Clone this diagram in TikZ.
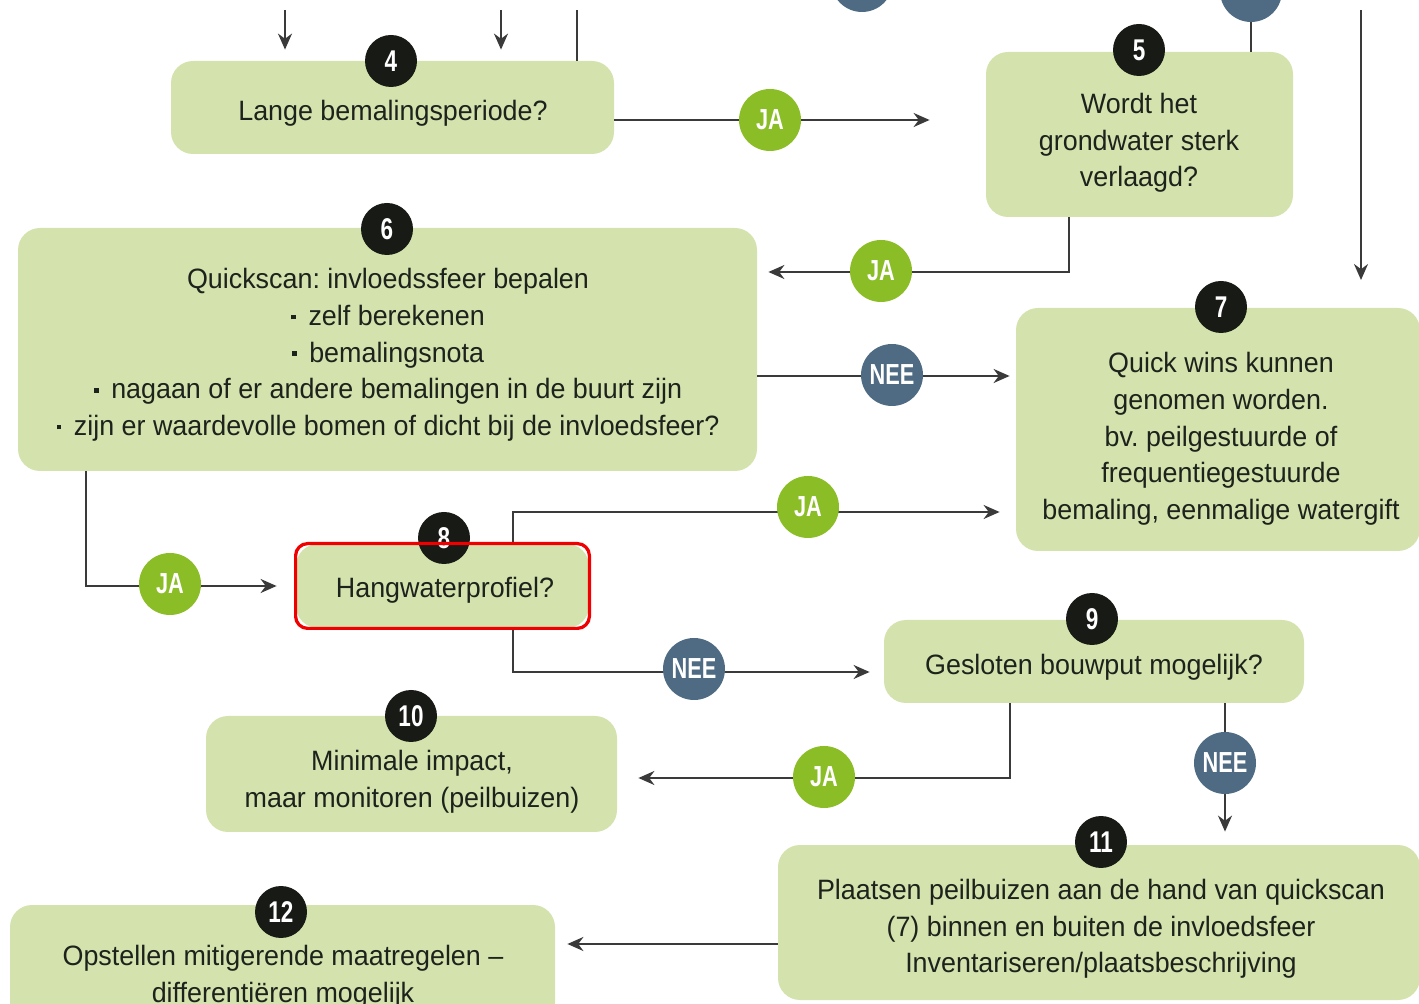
\documentclass[tikz,border=0pt]{standalone}
\usepackage{fontspec}
\setmainfont{Liberation Sans}[FakeStretch=0.96]
\newfontfamily\badgefont{Liberation Sans}[FakeStretch=0.75]
\usetikzlibrary{arrows.meta}
\definecolor{boxgreen}{HTML}{D4E3AD}
\definecolor{jagreen}{HTML}{8BBD26}
\definecolor{neeblue}{HTML}{4E6B83}
\definecolor{numblack}{HTML}{181A16}
\definecolor{linegray}{HTML}{3A3A3A}
\definecolor{txt}{HTML}{1E221C}
\definecolor{markred}{HTML}{F00000}
\newcommand{\sqbul}{\raisebox{0.22em}{\rule{2.4pt}{2.4pt}}\hspace{0.45em}}
\begin{document}
\frenchspacing
\begin{tikzpicture}[x=0.5pt,y=-0.5pt,
  box/.style={fill=boxgreen, rounded corners=11pt, inner sep=0pt},
  btext/.style={align=center, text=txt, inner sep=0pt,
    font=\fontsize{14}{18.35}\selectfont},
  num/.style={circle, fill=numblack, minimum size=26pt, inner sep=0pt,
    text=white, font=\badgefont\bfseries\fontsize{15}{15}\selectfont},
  ja/.style={circle, fill=jagreen, minimum size=31pt, inner sep=0pt,
    text=white, font=\badgefont\bfseries\fontsize{14.5}{14.5}\selectfont},
  nee/.style={ja, fill=neeblue},
  conn/.style={draw=linegray, line width=1pt},
  arr/.style={conn, -{Stealth[length=8pt,width=7pt]}},
]
\useasboundingbox (0,0) rectangle (1419,1004);

% ---- step boxes ----
\node[box, minimum width=221.5pt, minimum height=46.5pt] (b4) at (392.5,107.5) {};
\node[box, minimum width=153.5pt, minimum height=82.5pt] (b5) at (1139.5,134.5) {};
\node[box, minimum width=369.5pt, minimum height=121.5pt] (b6) at (387.5,349.5) {};
\node[box, minimum width=202pt, minimum height=121.5pt] (b7) at (1218,429.5) {};
\node[box, minimum width=146.5pt, minimum height=42pt] (b8) at (442.5,586) {};
\node[box, minimum width=210pt, minimum height=41.5pt] (b9) at (1094,661.5) {};
\node[box, minimum width=205.5pt, minimum height=58pt] (b10) at (411.5,774) {};
\node[box, minimum width=321pt, minimum height=77.5pt] (b11) at (1099,922.5) {};
\node[box, minimum width=272.5pt, minimum height=60pt] (b12) at (282.5,965) {};

% ---- helper points for routed connectors ----
\coordinate (top1) at (285,10);
\coordinate (top2) at (501,10);
\coordinate (top3) at (577,10);
\coordinate (top4) at (1361,10);
\coordinate (tip4) at (1361,280);
\coordinate (c5) at (1069,272);
\coordinate (c6) at (86,586);
\coordinate (c8a) at (513,512);
\coordinate (c8b) at (513,672);
\coordinate (c9a) at (1010,778);
\coordinate (c9b) at (1225,778);
\coordinate (c11) at (700,944);

% ---- badges entering from above ----
\node[nee] (t1) at (862,-19) {};
\node[nee] (t2) at (1251,-9) {};

% ---- connectors ----
\draw[arr, shorten >=5.5pt] (top1) -- (top1 |- b4.north);
\draw[arr, shorten >=5.5pt] (top2) -- (top2 |- b4.north);
\draw[conn] (top3) -- (top3 |- b4.north);
\draw[conn] (t2) -- (t2 |- b5.north);
\draw[arr] (top4) -- (tip4);

\coordinate (j1p) at (770,120);
\draw[arr, shorten >=28pt] (b4.east |- j1p) -- (b5.west |- j1p);
\draw[arr, shorten >=5.5pt] (b5.south -| c5) -- (c5) -- (b6.east |- c5);
\coordinate (n1p) at (892,376);
\draw[arr, shorten >=3pt] (b6.east |- n1p) -- (b7.west |- n1p);
\draw[arr, shorten >=9.5pt] (b6.south -| c6) -- (c6) -- (b8.west |- c6);
\draw[arr, shorten >=8pt] (b8.north -| c8a) -- (c8a) -- (b7.west |- c8a);
\draw[arr, shorten >=7pt] (b8.south -| c8b) -- (c8b) -- (b9.west |- c8b);
\draw[arr, shorten >=10.5pt] (b9.south -| c9a) -- (c9a) -- (b10.east |- c9a);
\draw[arr, shorten >=6.5pt] (b9.south -| c9b) -- (b11.north -| c9b);
\draw[arr, shorten >=6pt] (b11.west |- c11) -- (b12.east |- c11);

\node[ja] (j1) at (770,120) {JA};
\node[ja] (j2) at (881,271) {JA};
\node[nee] (n1) at (892,375) {NEE};
\node[ja] (j3) at (170,584) {JA};
\node[ja] (j4) at (808,507) {JA};
\node[nee] (n2) at (694,669) {NEE};
\node[ja] (j5) at (824,777) {JA};
\node[nee] (n3) at (1225,763) {NEE};

% ---- step numbers ----
\node[num] (k4) at (391,61) {4};
\node[num] (k5) at (1139,50) {5};
\node[num] (k6) at (387,229) {6};
\node[num] (k7) at (1221,307) {7};
\node[num] (k8) at (444,538) {8};
\node[num] (k9) at (1092,619) {9};
\node[num] (k10) at (411,716) {10};
\node[num] (k11) at (1101,842) {11};
\node[num] (k12) at (281,912) {12};

% ---- box texts ----
\node[btext] (x4) at (393,113) {Lange bemalingsperiode?};
\node[btext] (x5) at (1139,143) {Wordt het\\grondwater sterk\\verlaagd?};
\node[btext] (x6) at (388,355) {Quickscan: invloedssfeer bepalen\\
  \sqbul zelf berekenen\\
  \sqbul bemalingsnota\\
  \sqbul nagaan of er andere bemalingen in de buurt zijn\\
  \sqbul zijn er waardevolle bomen of dicht bij de invloedsfeer?};
\node[btext] (x7) at (1221,439) {Quick wins kunnen\\genomen worden.\\bv. peilgestuurde of\\frequentiegestuurde\\bemaling, eenmalige watergift};
\node[btext] (x8) at (445,590) {Hangwaterprofiel?};
\node[btext] (x9) at (1094,667) {Gesloten bouwput mogelijk?};
\node[btext] (x10) at (412,782) {Minimale impact,\\maar monitoren (peilbuizen)};
\node[btext] (x11) at (1101,929) {Plaatsen peilbuizen aan de hand van quickscan\\(7) binnen en buiten de invloedsfeer\\Inventariseren/plaatsbeschrijving};
\node[btext] (x12) at (283,977) {Opstellen mitigerende maatregelen --\\differentiëren mogelijk};

% ---- highlight around step 8 ----
\draw[markred, line width=1.6pt, rounded corners=6pt] (b8.south west) rectangle (b8.north east);
\end{tikzpicture}
\end{document}
